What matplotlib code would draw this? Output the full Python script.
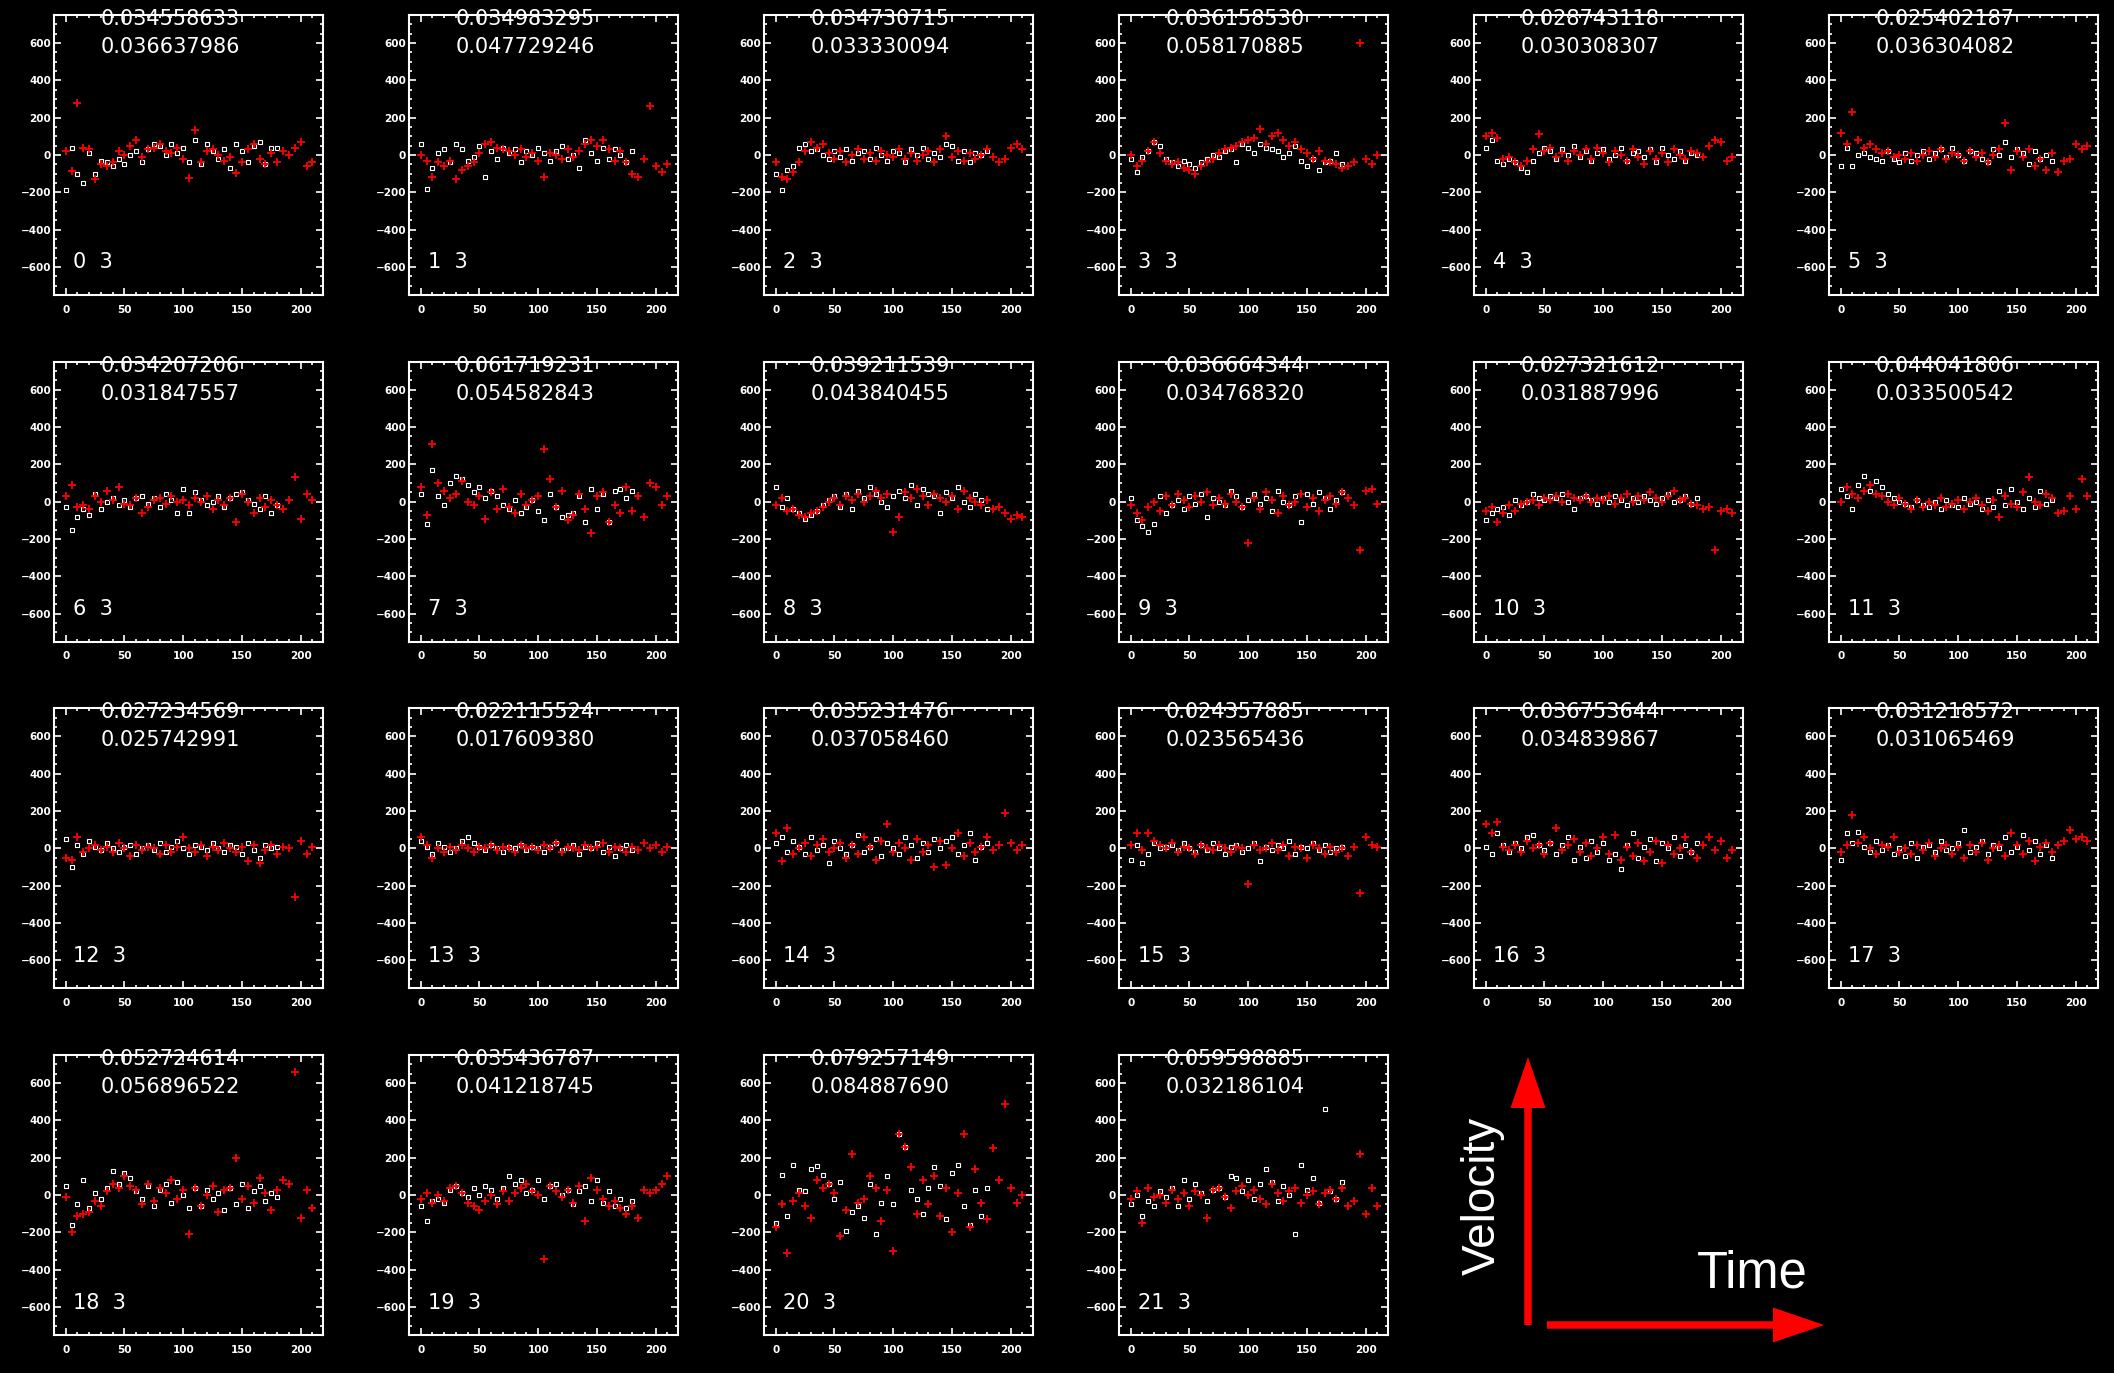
import numpy as np
import matplotlib
matplotlib.use("Agg")
import matplotlib.pyplot as plt
from matplotlib.ticker import MultipleLocator

# two fit numbers printed over each panel
top_vals = ["0.034558633", "0.034983295", "0.034730715", "0.036158530", "0.028743118", "0.025402187",
            "0.034207206", "0.061719231", "0.039211539", "0.036664344", "0.027321612", "0.044041806",
            "0.027234569", "0.022115524", "0.035231476", "0.024357885", "0.036753644", "0.031218572",
            "0.052724614", "0.035436787", "0.079257149", "0.059598885"]
low_vals = ["0.036637986", "0.047729246", "0.033330094", "0.058170885", "0.030308307", "0.036304082",
            "0.031847557", "0.054582843", "0.043840455", "0.034768320", "0.031887996", "0.033500542",
            "0.025742991", "0.017609380", "0.037058460", "0.023565436", "0.034839867", "0.031065469",
            "0.056896522", "0.041218745", "0.084887690", "0.032186104"]

# velocity samples, white series every 5 time steps from 0
white = [
    [-190, 40, -100, -150, 10, -100, -30, -40, -60, -20, -50, 0, 20, -40, 30, 60, 50, 0, 60, 10, 40, -40, 80, -50, 60, 20, -20, 30, -70, 60, 20, -40, 50, 70, -50, 40, 40],
    [60, -180, -70, 10, 30, -40, 60, 30, -30, -10, 50, -120, 20, -20, 40, 10, 30, -40, 20, 0, 40, 10, -30, 20, 50, -20, 0, -70, 80, 10, -30, 40, -20, 30, 0, -40, 20],
    [-100, -190, -80, -60, 40, 60, 20, 30, 0, -20, 20, -10, 30, -30, 10, 20, -20, 40, 0, -30, 20, 10, -40, 30, 0, 40, -20, 10, -10, 60, 50, -30, 20, -40, 10, 0, 20],
    [-20, -90, -10, 20, 70, 50, -20, -40, -60, -30, -50, -70, -40, -20, 0, -10, 20, 30, -40, 60, 40, 10, 60, 40, 30, 20, -10, 10, 50, -30, -60, -20, -80, -40, -30, 10, -50],
    [40, 80, -30, -50, -20, -40, -70, -90, -30, 10, 40, 20, -20, 30, 0, 50, -10, 20, -30, 10, 30, -20, 0, 40, -30, 10, 20, -10, 30, -40, 40, 0, -20, 20, -30, 10, 0],
    [-60, 40, -60, 0, 10, -10, -20, -30, 20, -20, -40, 10, -30, 0, 20, -20, 10, 30, -10, 40, 0, -30, 20, 10, -20, -40, 30, 0, 70, -10, 30, 10, -50, 20, -20, 0, -30],
    [-30, -150, -80, -40, -70, 40, -40, 0, 20, -20, 10, -30, 20, 30, -10, 20, -30, 40, 10, -60, 70, -60, 50, 10, -20, 0, 30, -30, 20, 40, 50, 10, -10, -40, 30, -60, -20],
    [40, -120, 170, 30, -20, 100, 140, 120, 90, 50, 80, 20, 60, 30, -20, -40, 10, -60, -30, 10, -50, -100, 40, -30, -80, -70, -60, 30, -110, 70, -40, 40, -110, 60, 70, 20, 60],
    [80, -30, 20, -40, -60, -90, -70, -50, -20, 10, 30, -30, 40, -40, 60, 20, 80, 40, 0, -30, 30, 60, 20, 90, -20, 70, 40, 30, -60, 50, 20, 80, 0, -30, 40, 10, -40],
    [20, -100, -130, -160, -120, 30, -60, -20, 10, -40, 30, -10, 40, -80, 20, 0, -20, 60, 30, -30, 10, 40, -10, 20, -50, 60, 0, -20, 30, -110, 40, -10, 50, 20, -40, 10, 50],
    [-100, -60, -40, -30, -70, 10, -20, 0, 40, 20, 10, 30, 20, 40, 0, -40, 20, 30, 10, -10, 20, 0, 30, 10, -20, 20, 0, 30, 10, -10, 20, 40, 0, 10, 30, -10, 20],
    [70, 30, -40, 90, 140, 60, 110, 80, 40, 20, 0, -10, -30, 10, -20, -30, 0, -40, 10, -20, -30, 20, -10, 0, -40, 10, -30, 60, -20, 70, 0, -40, 20, -30, 60, -10, 10],
    [50, -100, 20, -30, 40, 10, -10, 30, 0, -20, 10, 20, -30, 0, 20, -10, 30, -20, 10, 40, 0, -30, 20, 10, -10, 30, 0, -20, 20, 10, -30, 30, -10, -50, 20, 0, 10],
    [40, 10, -30, 30, 10, -20, 0, 40, 60, 30, 10, -10, 20, 0, -20, 10, 0, 20, -10, 10, 0, -20, 10, 30, -10, 0, 20, -30, 10, 0, 30, -20, 10, -40, 0, 20, -10],
    [30, 60, -20, 40, 10, -30, 60, -10, 20, -80, 40, 0, -30, 20, 70, -20, 10, 50, -40, 30, 0, -30, 60, 20, -50, 30, -20, 50, 0, 40, 60, -30, 20, 80, -60, 10, 30],
    [-60, 20, -80, -30, 30, 0, 10, 20, -10, 30, 0, -20, 20, -10, 30, 0, -30, 10, 20, -20, 0, 30, -70, 10, -10, 20, 0, 40, -30, 10, 0, 30, -10, 20, -20, 0, 10],
    [10, -30, 80, 20, -20, 30, 0, 60, 70, 20, -10, 30, -30, 20, 60, -60, 10, -50, 40, -20, 30, -60, -30, -110, 20, 80, -50, 10, 50, -70, 30, 0, 60, -40, 20, -20, 30],
    [-60, 80, 30, 90, 10, -20, 40, -10, 20, -30, 0, -40, 30, -50, 10, 20, -20, 40, -10, 0, 30, 100, -20, 10, 40, -30, 20, 0, 60, -20, 10, 70, -10, 40, -30, 20, -50],
    [50, -160, -50, 80, -70, 10, -20, 40, 130, 60, 120, 90, 20, -20, 50, -60, 30, 60, -40, 70, 0, -70, 40, -60, 30, -20, 10, -80, 40, -50, 60, -70, 20, 50, -30, 10, -10],
    [-60, -140, -30, -20, -40, 30, 50, 10, -10, 40, 0, 50, 30, -20, 40, 100, 60, 80, 10, 30, 80, -20, 50, 60, 0, 30, -50, 20, 50, -30, 80, -40, 20, -60, -20, -70, -30],
    [-150, 110, -110, 160, 30, 20, 140, 155, 110, 60, -20, 70, -190, -90, -60, -120, 60, -210, -40, 100, -50, 330, 260, 30, -20, -100, 40, 150, 50, -130, 120, 160, -60, -160, 30, -110, 40],
    [-50, 0, -110, -30, -60, 20, -10, 40, -60, 80, -20, 60, 10, -30, 30, 40, -10, 100, 90, 20, 80, -20, 60, 140, 70, -30, 50, 0, -210, 160, 30, 90, -40, 460, 20, -20, 70],
]

# red series, every 5 time steps from 0
red = [
    [20, -85, 280, 40, 30, -130, -50, -60, -40, 20, 0, 50, 80, -10, 30, 40, 60, 20, 10, 40, -20, -125, 135, -40, 20, 30, 0, -30, -10, -95, -40, 30, 60, -20, -50, 10, -40, 20, 0, 40, 70, -60, -40],
    [0, -30, -120, -40, -60, -30, -130, -80, -60, -40, 10, 60, 70, 40, 30, 20, 0, 30, -10, 10, -30, -120, 10, 0, -20, 30, -10, 20, 60, 80, 50, 80, 30, -30, 20, -40, -100, -120, -20, 260, -60, -90, -50],
    [-40, -120, -130, -90, -40, 20, 70, 40, 60, 10, -20, 20, -40, 0, 30, -20, 10, -30, 20, 0, -10, 30, -20, 10, -30, 0, 20, -40, 30, 100, -10, 20, -30, 10, -20, 0, 30, -10, -40, -20, 40, 60, 30],
    [0, -60, -30, 20, 70, 10, -30, -50, -40, -70, -80, -100, -60, -40, -20, 10, 30, 40, 50, 70, 80, 90, 140, 60, 100, 120, 80, 50, 70, 30, 10, -20, 20, -30, -40, -50, -70, -60, -40, 600, -20, -50, 0],
    [100, 120, 90, -20, -10, -40, -60, -30, 30, 110, 20, 40, -10, 10, -30, 20, 0, 30, -20, 40, 10, -40, 20, 0, -30, 30, -10, -50, 20, -20, 10, -40, 30, 0, -20, 20, 10, -10, 50, 80, 70, -30, -10],
    [120, 60, 230, 80, 40, 60, 30, 10, 20, -10, 0, -20, 10, -30, 0, 20, -10, 30, -20, 10, 0, -30, 20, -10, 10, -40, 0, 30, 170, -80, 20, -10, 30, -60, -20, -80, 10, -90, -30, -20, 60, 30, 50],
    [30, 90, -30, -20, -40, 30, 0, 60, 10, 80, -10, -20, 20, -60, -30, 10, 20, -10, 30, 0, 10, -20, 20, 0, 30, -40, 10, -20, 20, -110, 40, 0, -60, 20, -30, 10, -20, -40, 10, 130, -90, 40, 10],
    [80, -70, 310, 100, 60, 20, 40, 110, 0, -20, 30, -90, 50, -40, 70, -30, -60, 40, -20, 10, 30, 285, 120, -30, 60, -100, -70, 40, -40, -165, 30, 50, -110, -20, -60, 80, -50, 30, -80, 100, 80, -20, 30],
    [-20, 20, -50, -40, -70, -80, -60, -50, -30, 0, 20, -20, 30, 10, 40, 0, 30, 60, 20, 40, -160, -80, 50, 20, 70, 30, -20, 40, 20, 0, 30, -40, 60, 20, 0, -20, 10, -40, -30, -60, -90, -70, -80],
    [-20, -60, -100, -30, 0, -50, 30, -20, 40, 10, -30, 30, 0, 50, -20, 20, -10, 40, 0, -30, -220, 20, -40, 50, 10, -60, 30, -20, 0, 40, -30, 20, -50, 10, 30, -10, 50, 20, -20, -260, 60, 70, -10],
    [-50, -30, -110, -60, -20, -50, -10, 0, 10, -20, 20, 10, 30, 0, 40, 20, 10, 30, 0, 20, 10, 30, -10, 20, 40, 0, 30, 10, 50, 20, 0, 30, 60, 10, 20, -10, -20, -40, -30, -260, -50, -40, -60],
    [0, 80, 40, 20, 60, 90, 40, 30, 0, -20, 20, -10, -40, 10, -30, 0, -20, 20, -30, -10, 10, -40, 0, 20, -20, -50, 10, -80, 30, -10, -30, 50, 130, 0, -20, 40, 20, -60, -50, 30, -40, 120, 30],
    [-50, -60, 60, -20, 0, 20, -10, 10, -20, 30, 0, -40, 20, -10, 10, 0, -30, 20, -20, 10, 60, 0, -20, 20, -40, 10, -10, 30, 0, -20, 10, -70, 20, -80, -10, 20, -30, 10, 0, -260, 40, -30, 10],
    [60, 20, -50, 0, -20, 10, -10, 20, 0, -20, 10, 0, 20, -10, 10, 0, -20, 20, 0, 10, -10, 20, 0, 30, -20, 10, 0, -10, 20, 0, 10, 30, -20, 10, 0, -20, 10, -10, 30, 0, 20, -20, 10],
    [80, -70, 110, -30, 0, 30, -40, 20, 50, -20, 0, 30, -50, 20, -30, 60, 10, -60, 40, 130, -20, 30, 0, -60, 50, -20, 20, -100, 40, -90, 0, 80, -40, 30, -20, 10, 60, -10, 20, 190, 30, -10, 20],
    [20, 80, -10, 80, 40, 20, 0, 30, -20, 10, 0, -30, 20, 0, -10, 20, 0, -20, 10, 0, -190, 20, -10, 0, 30, -10, 20, -40, 10, 0, -50, 20, 0, -30, 10, -20, 0, -40, 10, -240, 60, 20, 10],
    [130, 80, 140, 10, -10, 20, -20, 40, 0, 20, -30, 30, 110, -10, 20, 50, -20, 30, -40, 0, 60, -30, 70, -60, 10, -40, 30, -70, -20, 40, -80, 20, -30, 0, 60, -20, -50, 20, 60, -10, 40, -50, -10],
    [-20, 20, 180, 30, 60, 0, -30, 20, 10, 60, -20, 0, -30, 20, -10, 30, -40, 0, 20, -30, 10, -50, 20, -20, 30, -60, 0, 20, -40, 80, 20, -30, 40, -70, 10, 30, -20, 20, 40, 100, 50, 60, 40],
    [-10, -200, -110, -100, -90, -30, -60, 20, 60, 40, 100, 50, 30, -50, 60, -30, 40, 10, 80, -20, 30, -210, 40, -60, 0, 50, -90, 30, 40, 200, -20, 50, -40, 90, 10, -80, 30, 80, 60, 660, -120, 30, -70],
    [-20, 10, -40, 0, -30, 40, 50, 10, -40, -60, -80, -30, 0, -50, 20, -30, 10, 40, 60, 20, 0, -340, 50, 20, -10, 30, -40, 50, -140, 90, 30, -20, -60, -30, -70, -100, -60, -120, 30, 10, 30, 60, 100],
    [-170, -50, -310, -30, 10, -60, -120, 80, 40, 60, 10, -220, -80, 220, -40, -20, 100, 40, -140, 30, -300, 330, 260, 150, -100, 80, -50, 100, -110, 40, -200, 10, 330, -170, 140, -40, -130, 250, 80, 490, 40, -40, 0],
    [-20, 20, -150, 40, -10, 0, -40, 30, -20, 10, -60, 20, 0, -120, 30, 40, -10, -70, 20, 50, 0, 30, -20, -50, 60, 10, -30, 20, 40, -40, 0, 20, -50, 10, 30, -20, 40, -60, -30, 220, -100, 40, -60],
]

ncol = 6
fig = plt.figure(figsize=(21.14, 13.73), dpi=100, facecolor="black")
W, H = 2114.0, 1373.0

for i in range(len(white)):
    r, c = divmod(i, ncol)
    left = 54 + 355 * c
    top = 15 + 346.7 * r
    ax = fig.add_axes([left / W, 1 - (top + 280) / H, 269 / W, 280 / H])
    ax.set_facecolor("black")

    tw = np.arange(len(white[i])) * 5
    tr = np.arange(len(red[i])) * 5
    ax.plot(tw, white[i], ls="none", marker="s", ms=3.2, mfc="none", mec="white", mew=0.8)
    ax.plot(tr, red[i], ls="none", marker="+", ms=6, mec="red", mew=1.3)

    ax.set_xlim(-10, 219)
    ax.set_ylim(-750, 750)
    ax.xaxis.set_major_locator(MultipleLocator(50))
    ax.xaxis.set_minor_locator(MultipleLocator(10))
    ax.yaxis.set_major_locator(MultipleLocator(200))
    ax.yaxis.set_minor_locator(MultipleLocator(50))
    ax.set_yticks([-600, -400, -200, 0, 200, 400, 600])
    for s in ax.spines.values():
        s.set_color("white")
        s.set_linewidth(1.5)
    ax.tick_params(which="both", direction="in", top=True, right=True, colors="white",
                   labelcolor="white", labelsize=7.5, width=1.2)
    ax.tick_params(which="major", length=5)
    ax.tick_params(which="minor", length=2.5)
    ax.tick_params(axis="y", pad=2)
    ax.tick_params(axis="x", pad=7)
    for lab in ax.get_xticklabels() + ax.get_yticklabels():
        lab.set_fontweight("bold")

    ax.text(30, 696, top_vals[i], color="white", fontsize=15, clip_on=False)
    ax.text(30, 546, low_vals[i], color="white", fontsize=15)
    ax.text(6, -608, f"{i}  3", color="white", fontsize=15)

# axis key in the empty corner
key = fig.add_axes([0, 0, 1, 1], facecolor="none")
key.set_xlim(0, W)
key.set_ylim(H, 0)
key.axis("off")
key.arrow(1528, 1325, 0, -217, width=7.5, head_width=35, head_length=51,
          length_includes_head=False, color="red", lw=0)
key.arrow(1547, 1325, 226, 0, width=7.5, head_width=35, head_length=51,
          length_includes_head=False, color="red", lw=0)
key.text(1483, 1196, "Velocity", rotation=90, color="white", fontsize=33,
         family="Liberation Sans", ha="center", va="center")
key.text(1697, 1287, "Time", color="white", fontsize=36.5,
         family="Liberation Sans", ha="left", va="baseline")

fig.savefig("out.png", dpi=100, facecolor="black")
